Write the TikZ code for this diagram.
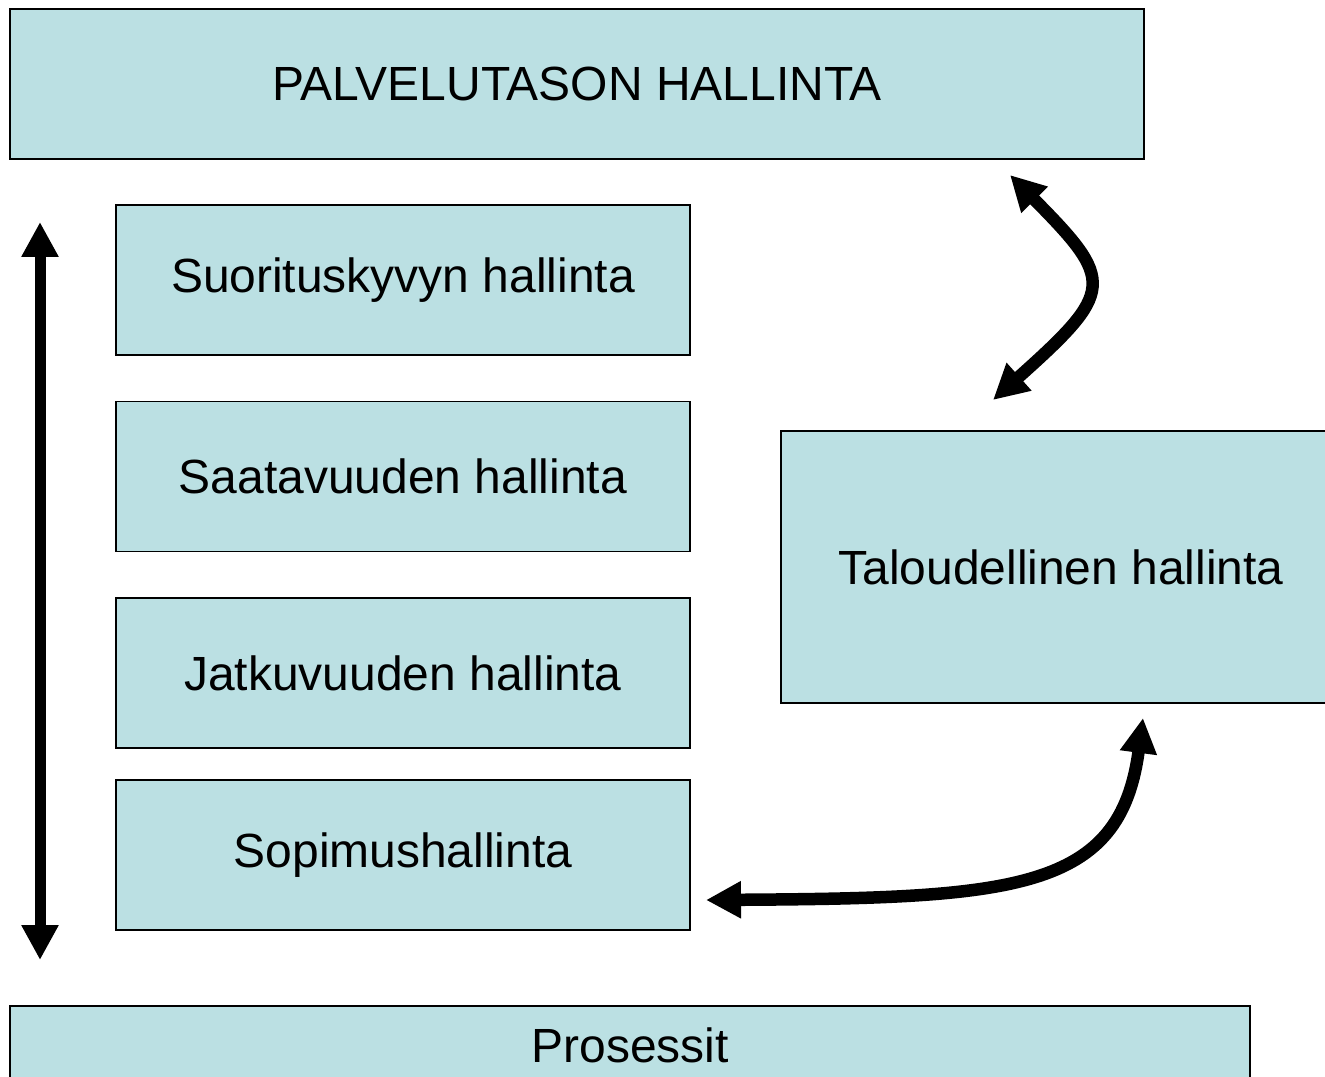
\documentclass[tikz,border=0pt]{standalone}
\usepackage{fontspec}
\setmainfont{Liberation Sans}
\usetikzlibrary{positioning, arrows.meta}
\definecolor{boxblue}{HTML}{BBE0E3}
\tikzset{
	box/.style={draw, line width=0.9pt, fill=boxblue, inner sep=0pt, minimum width=11.48cm, minimum height=3cm, font=\fontsize{27.3}{33}\selectfont},
	widebox/.style={box, minimum width=22.68cm},
	bigarrow/.style={line width=0.22cm, {Triangle[length=0.7cm, width=0.7cm]}-{Triangle[length=0.7cm, width=0.7cm]}},
	curvearrow/.style={bigarrow, line width=0.25cm},
}

\begin{document}
\begin{tikzpicture}
	\useasboundingbox (0,0) rectangle (26.5,21.52);
	\clip (0,0) rectangle (26.5,21.52);
	
	\node (palvelu) [widebox] at (11.54,19.84) {PALVELUTASON HALLINTA};
	
	\node (suoritus) [box] at (8.06,15.92) {Suorituskyvyn hallinta};
	\node (saatavuus) [box, below=0.9cm of suoritus] {Saatavuuden hallinta};
	\node (jatkuvuus) [box, below=0.9cm of saatavuus] {Jatkuvuuden hallinta};
	\node (sopimus) [box, below=0.6cm of jatkuvuus] {Sopimushallinta};
	
	\node (talous) [box, minimum width=11.2cm, minimum height=5.44cm] at (21.22,10.18) {Taloudellinen hallinta};
	\node (prosessit) [box, minimum width=24.8cm, minimum height=1.56cm] at (12.6,0.62) {Prosessit};
	
	% free ends of the arrows
	\coordinate (ylos) at (0.8,17.08);
	\coordinate (alas) at (0.8,2.32);
	\coordinate (palvelu-ala) at (20.2,18.02);
	\coordinate (talous-yla) at (19.86,13.52);
	\coordinate (talous-ala) at (22.86,7.16);
	\coordinate (sopimus-oikea) at (14.12,3.52);
	
	\begin{scope}[line cap=butt]
		\draw[bigarrow] (ylos) -- (alas);
		\draw[curvearrow] (talous-yla) .. controls (22.3,15.7) and (22.3,15.9) .. (palvelu-ala);
		\draw[curvearrow] (sopimus-oikea) .. controls (20.3,3.56) and (22.4,3.7) .. (talous-ala);
	\end{scope}
\end{tikzpicture}
\end{document}
